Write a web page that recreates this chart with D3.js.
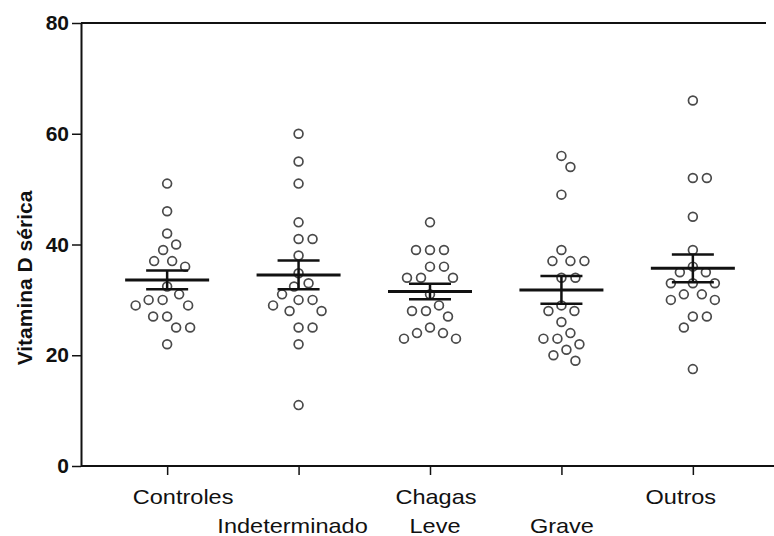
<!DOCTYPE html>
<html>
<head>
<meta charset="utf-8">
<script src="https://cdn.jsdelivr.net/npm/d3@7"></script>
<style>
  body { margin: 0; background: #fff; }
  svg { display: block; }
  text { font-family: "Liberation Sans", Arial, sans-serif; fill: #111; }
</style>
</head>
<body>
<svg id="chart" width="774" height="536"></svg>
<script>
// groups on the x axis
const categories = ["Controles", "Indeterminado", "Chagas Leve", "Grave", "Outros"];
// label lines under each tick (two rows, like the original figure)
const labelLines = [["Controles"], ["", "Indeterminado"], ["Chagas", "Leve"], ["", "Grave"], ["Outros"]];

// serum vitamin D values
const controles = [51, 46, 42, 40, 39, 37, 37, 36, 32.4, 31, 30, 30, 29, 29, 27, 27, 25, 25, 22];
const indeterminado = [60, 55, 51, 44, 41, 41, 38, 34.8, 33, 32.4, 31, 30, 29, 30, 28, 28, 25, 25, 22, 11];
const chagasLeve = [44, 39, 39, 39, 36, 36, 34, 34, 34, 31, 29, 28, 27, 28, 25, 24, 23, 23, 24];
const grave = [56, 54, 49, 39, 37, 37, 37, 34, 34, 29, 28, 28, 26, 24, 23, 22, 23, 21, 20, 19];
const outros = [66, 52, 52, 45, 39, 36, 35, 35, 33, 33, 33, 31, 30, 30, 31, 27, 27, 25, 17.5];

// mean and SEM bars as drawn
const means = [33.6, 34.5, 31.5, 31.8, 35.7];
const sems = [1.7, 2.6, 1.4, 2.5, 2.5];

const yTicks = [0, 20, 40, 60, 80];

const series = [controles, indeterminado, chagasLeve, grave, outros];

const svg = d3.select("#chart");
const mLeft = 81, mTop = 23, mBottom = 466;

const x = d3.scalePoint()
    .domain(categories)
    .range([85, 775])
    .padding(0.625);

const y = d3.scaleLinear()
    .domain([0, 80])
    .range([mBottom, mTop]);

// frame: top line
svg.append("line")
    .attr("x1", mLeft).attr("x2", 766)
    .attr("y1", mTop).attr("y2", mTop)
    .attr("stroke", "#111").attr("stroke-width", 2);

// y axis
const yAxis = svg.append("g")
    .attr("transform", `translate(${mLeft},0)`)
    .call(d3.axisLeft(y).tickValues(yTicks).tickSize(9).tickSizeOuter(0).tickPadding(3));
yAxis.select(".domain").attr("stroke", "#111").attr("stroke-width", 2);
yAxis.selectAll(".tick line").attr("stroke", "#111").attr("stroke-width", 1.5);
yAxis.selectAll(".tick text")
    .style("font-family", "'Liberation Sans', Arial, sans-serif")
    .style("font-size", "21px")
    .style("font-weight", "bold")
    .attr("fill", "#111");

// x axis
const xAxis = svg.append("g")
    .attr("transform", `translate(0,${mBottom})`)
    .call(d3.axisBottom(x).tickSize(9).tickSizeOuter(0).tickFormat(""));
xAxis.select(".domain").attr("d", `M${mLeft},0H774`).attr("stroke", "#111").attr("stroke-width", 2);
xAxis.selectAll(".tick line").attr("stroke", "#111").attr("stroke-width", 1.5);

// category labels (hand placed as in the figure, slightly wide font)
const labelShift = [[16], [0, -6], [6, 5], [0, 0.5], [-12]];
const rowY = [504, 533];
labelLines.forEach((lines, i) => {
    lines.forEach((t, j) => {
        if (!t) return;
        const el = svg.append("text")
            .attr("x", x(categories[i]) + labelShift[i][j])
            .attr("y", rowY[j])
            .attr("text-anchor", "middle")
            .style("font-size", "21px")
            .text(t);
        const w = el.node().getComputedTextLength();
        el.attr("textLength", w * 1.12).attr("lengthAdjust", "spacingAndGlyphs");
    });
});

// y title
svg.append("text")
    .attr("transform", "translate(32,278) rotate(-90)")
    .attr("text-anchor", "middle")
    .style("font-size", "21px")
    .style("font-weight", "bold")
    .text("Vitamina D sérica");

// simple beeswarm: place each dot as near the centre as it fits
function swarm(values, cx, d) {
    const placed = [];
    const items = values.map(v => ({ v, py: y(v) }))
        .sort((a, b) => d3.descending(a.v, b.v));
    items.forEach(p => {
        let off = 0;
        for (let k = 0; k < 200; k++) {
            const cand = k === 0 ? [0] : [k * 0.5, -k * 0.5];
            let ok = null;
            for (const c of cand) {
                if (placed.every(q => (q.px - (cx + c)) ** 2 + (q.py - p.py) ** 2 >= d * d)) { ok = c; break; }
            }
            if (ok !== null) { off = ok; break; }
        }
        p.px = cx + off;
        placed.push(p);
    });
    return placed;
}

const gDots = svg.append("g");
series.forEach((vals, i) => {
    const cx = x(categories[i]);
    gDots.selectAll(null)
        .data(swarm(vals, cx, 14))
        .join("circle")
        .attr("cx", d => d.px)
        .attr("cy", d => d.py)
        .attr("r", 4.4)
        .attr("fill", "#fff")
        .attr("stroke", "#4a4a4a")
        .attr("stroke-width", 1.7);
});

// mean and SEM
const gStats = svg.append("g").attr("stroke", "#111");
categories.forEach((c, i) => {
    const cx = x(c);
    const m = means[i], s = sems[i];
    gStats.append("line")
        .attr("x1", cx - 42).attr("x2", cx + 42)
        .attr("y1", y(m)).attr("y2", y(m))
        .attr("stroke-width", 3);
    gStats.append("line")
        .attr("x1", cx).attr("x2", cx)
        .attr("y1", y(m + s)).attr("y2", y(m - s))
        .attr("stroke-width", 2.5);
    [m + s, m - s].forEach(v => {
        gStats.append("line")
            .attr("x1", cx - 21).attr("x2", cx + 21)
            .attr("y1", y(v)).attr("y2", y(v))
            .attr("stroke-width", 2.5);
    });
});
</script>
</body>
</html>
